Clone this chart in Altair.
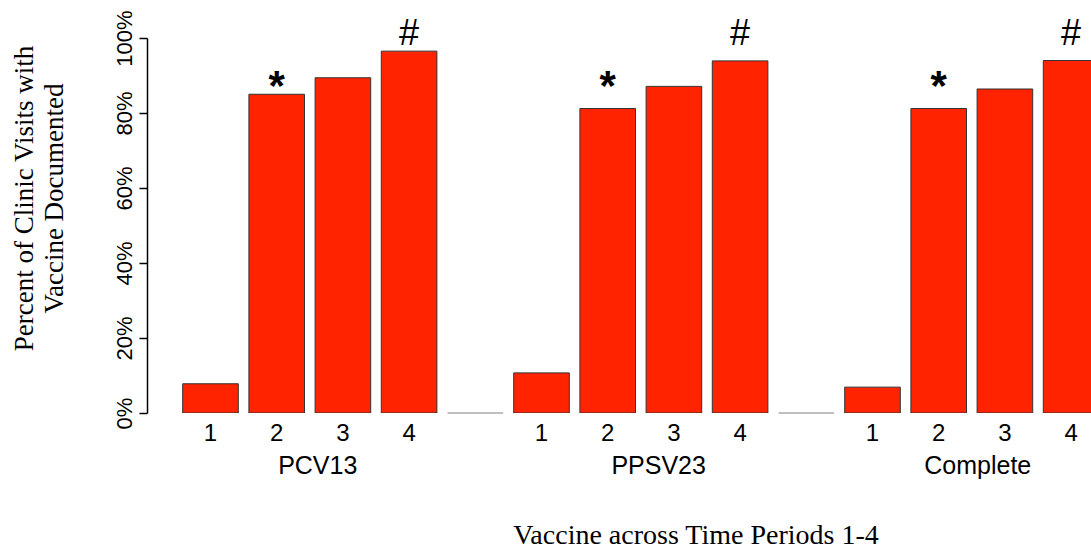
import altair as alt
import pandas as pd

# ---- data ----
groups = ["PCV13", "PPSV23", "Complete"]
periods = ["1", "2", "3", "4"]
pcv13 = [0.078, 0.850, 0.894, 0.965]
ppsv23 = [0.107, 0.812, 0.871, 0.939]
complete = [0.069, 0.812, 0.864, 0.940]
group_slots = [[1, 2, 3, 4], [6, 7, 8, 9], [11, 12, 13, 14]]
empty_slots = [5, 10]
star_period = "2"
hash_period = "4"
y_ticks = [0, 0.2, 0.4, 0.6, 0.8, 1.0]
y_title = ["Percent of Clinic Visits with", "Vaccine Documented"]
x_title = "Vaccine across Time Periods 1-4"

# ---- layout constants ----
W, H = 944, 375
HALF = 0.42
group_label_pos = [2.62, 7.77, 12.59]
STAR_Y = 0.835
HASH_Y = 0.982
SANS = "Liberation Sans"
SERIF = "Liberation Serif"

rows = []
for g, vals, sl in zip(groups, [pcv13, ppsv23, complete], group_slots):
    for p, v, s in zip(periods, vals, sl):
        rows.append({"group": g, "period": p, "value": v, "slot": s,
                     "x0": s - HALF, "x1": s + HALF})
bars_df = pd.DataFrame(rows)
empty_df = pd.DataFrame({"slot": empty_slots,
                         "x0": [s - HALF for s in empty_slots],
                         "x1": [s + HALF for s in empty_slots],
                         "value": [0] * len(empty_slots)})
grp_df = pd.DataFrame({"group": groups, "pos": group_label_pos})
star_df = bars_df[bars_df["period"] == star_period].assign(value=STAR_Y, sym="*")
hash_df = bars_df[bars_df["period"] == hash_period].assign(value=HASH_Y, sym="#")

xscale = alt.Scale(domain=[0.0408, 14.3006], nice=False, zero=False)
yscale = alt.Scale(domain=[0, 1], nice=False)

yaxis = alt.Axis(values=y_ticks, format=".0%", grid=False,
                 labelAngle=270, labelAlign="center", labelBaseline="alphabetic",
                 labelPadding=8, labelFont=SANS, labelFontSize=22, labelColor="black",
                 labelOverlap=False, labelFlush=False,
                 tickSize=8, tickWidth=1.5, tickColor="black",
                 domainColor="black", domainWidth=1.5,
                 title=y_title, titleFont=SERIF, titleFontSize=27, titleFontWeight="normal",
                 titleColor="black", titleAngle=270, titleAlign="center",
                 titleBaseline="alphabetic", titleLineHeight=30,
                 titleX=-115, titleY=160)

Y = alt.Y("value:Q", scale=yscale, axis=yaxis)

bars = alt.Chart(bars_df).mark_bar(color="#FF2300", stroke="#333333", strokeWidth=1, clip=True).encode(
    x=alt.X("x0:Q", scale=xscale, axis=None),
    x2="x1:Q",
    y=Y,
    y2=alt.datum(0),
)

empty = alt.Chart(empty_df).mark_rule(color="#aaaaaa", strokeWidth=1.5).encode(
    x=alt.X("x0:Q", scale=xscale, axis=None),
    x2="x1:Q",
    y=Y,
)

digits = alt.Chart(bars_df).mark_text(font=SANS, fontSize=24, color="black",
                                      baseline="alphabetic", align="center").encode(
    x=alt.X("slot:Q", scale=xscale, axis=None),
    y=alt.value(H + 28),
    text="period:N",
)

glabels = alt.Chart(grp_df).mark_text(font=SANS, fontSize=25, color="black",
                                      baseline="alphabetic", align="center").encode(
    x=alt.X("pos:Q", scale=xscale, axis=None),
    y=alt.value(H + 61),
    text="group:N",
)

stars = alt.Chart(star_df).mark_text(font=SANS, fontSize=42, fontWeight="bold", color="black",
                                     baseline="alphabetic", align="center").encode(
    x=alt.X("slot:Q", scale=xscale, axis=None),
    y=Y,
    text="sym:N",
)

hashes = alt.Chart(hash_df).mark_text(font=SANS, fontSize=36, color="black",
                                      baseline="alphabetic", align="center").encode(
    x=alt.X("slot:Q", scale=xscale, axis=None),
    y=Y,
    text="sym:N",
)

xt = alt.Chart(pd.DataFrame({"t": [x_title]})).mark_text(
    font=SERIF, fontSize=28, color="black", baseline="alphabetic", align="center").encode(
    x=alt.value(549), y=alt.value(506), text="t:N")

chart = alt.layer(bars, empty, digits, glabels, stars, hashes, xt).properties(
    width=W, height=H,
    autosize=alt.AutoSizeParams(type="none"),
    padding={"left": 147, "top": 38, "right": 0, "bottom": 139},
    background="white",
).configure_view(stroke=None)

chart.save("out.html", embed_options={"renderer": "svg", "actions": False})
